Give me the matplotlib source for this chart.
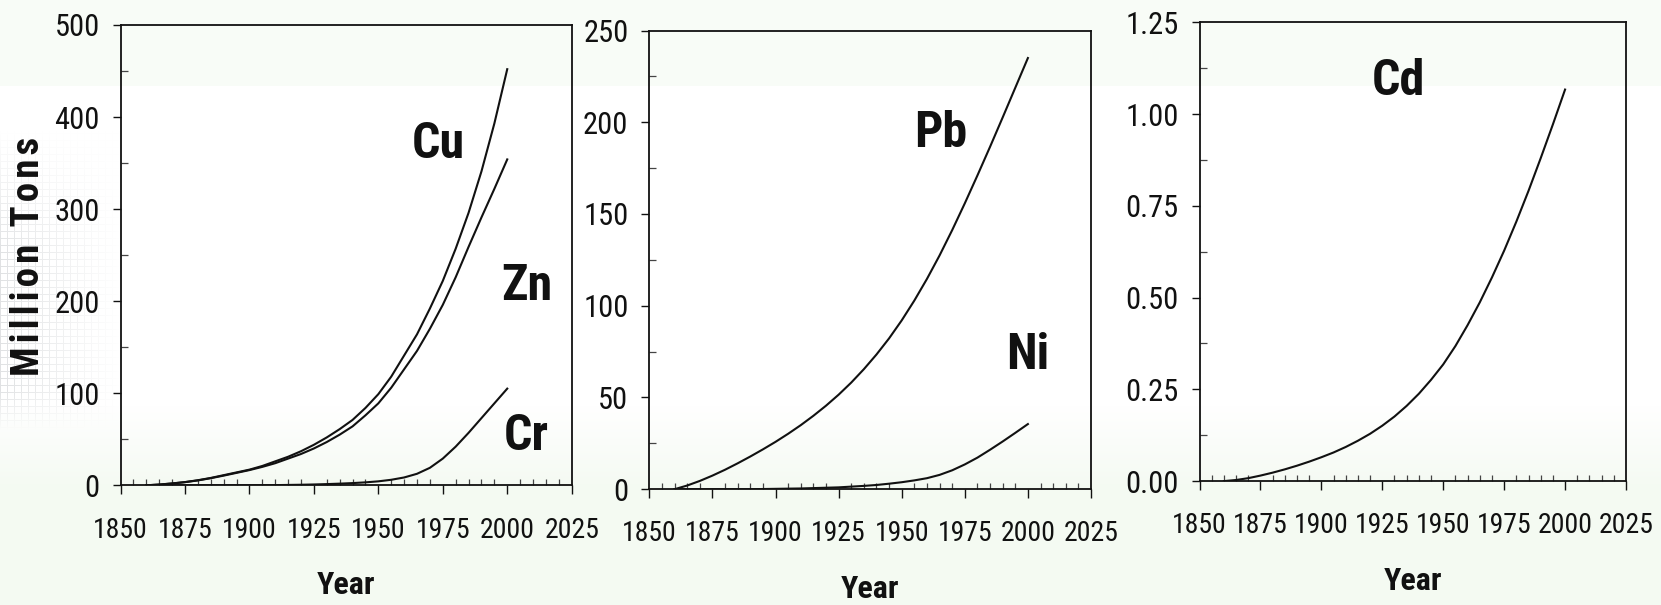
import numpy as np
import matplotlib
matplotlib.use("Agg")
import matplotlib.pyplot as plt
from matplotlib import font_manager
from matplotlib.ticker import MultipleLocator, FormatStrFormatter

# ---------------------------------------------------------------- data
years = [1860, 1865, 1870, 1875, 1880, 1885, 1890, 1895, 1900, 1905,
         1910, 1915, 1920, 1925, 1930, 1935, 1940, 1945, 1950, 1955,
         1960, 1965, 1970, 1975, 1980, 1985, 1990, 1995, 2000]

# cumulative production, million tons
cu = [0, 0.8, 2, 3.5, 5.5, 8, 11, 14, 17, 21,
      26, 31, 37, 44, 52, 61, 71, 84, 99, 118,
      141, 164, 192, 222, 257, 296, 341, 393, 452]
zn = [0, 0.8, 2, 3.4, 5.3, 7.7, 10.5, 13.5, 16.5, 20,
      24, 29, 34, 40, 47, 55, 64, 76, 89, 106,
      126, 146, 170, 196, 226, 259, 291, 322, 354]
cr = [0, 0, 0, 0, 0, 0, 0, 0, 0, 0.1,
      0.2, 0.4, 0.6, 0.9, 1.3, 1.8, 2.4, 3.2, 4.3, 6,
      8.5, 12.5, 19, 29, 42, 57, 73, 89, 105]
pb = [0, 2.0, 4.5, 7.4, 10.6, 14.1, 17.8, 21.7, 25.8, 30.2,
      34.9, 40.0, 45.5, 51.5, 58.1, 65.4, 73.4, 82.2, 92.0, 102.8,
      114.6, 127.4, 141.2, 155.8, 171.0, 186.6, 202.6, 218.8, 235.0]
ni = [0, 0, 0, 0, 0, 0, 0, 0.1, 0.2, 0.3,
      0.4, 0.6, 0.8, 1.0, 1.4, 1.8, 2.3, 3.0, 3.8, 4.8,
      6.0, 7.8, 10.3, 13.5, 17.2, 21.5, 26, 30.7, 35.5]
cd = [0, 0.003, 0.008, 0.015, 0.023, 0.032, 0.042, 0.053, 0.065, 0.078,
      0.093, 0.110, 0.129, 0.151, 0.176, 0.205, 0.238, 0.276, 0.318, 0.368,
      0.425, 0.487, 0.555, 0.628, 0.707, 0.791, 0.880, 0.972, 1.067]

x_ticks = [1850, 1875, 1900, 1925, 1950, 1975, 2000, 2025]
x_label = "Year"
y_label = "Million Tons"

# --------------------------------------------------------------- fonts
def _w(v):
    if isinstance(v, str):
        return font_manager.weight_dict.get(v, 400)
    return int(v)


def usable(name):
    ws = [_w(f.weight) for f in font_manager.fontManager.ttflist
          if f.name == name and f.style == "normal"]
    return any(350 <= w < 600 for w in ws) and any(w >= 700 for w in ws)


FONT = "Liberation Sans"
for cand in ["Nimbus Sans Narrow", "Liberation Sans Narrow", "Arial Narrow",
             "Roboto Condensed", "PT Sans Narrow", "Pragati Narrow",
             "Asap Condensed", "Barlow Semi Condensed"]:
    if usable(cand):
        FONT = cand
        break

plt.rcParams["font.family"] = [FONT, "DejaVu Sans"]
INK = "#111111"

W, H = 1661, 605
fig = plt.figure(figsize=(W / 100, H / 100), dpi=100)
fig.patch.set_facecolor("white")

# ---------------------------------------------------- slide background
bg = fig.add_axes([0, 0, 1, 1], zorder=-10)
bg.axis("off")
tint = np.array([0.960, 0.981, 0.952])
yy = np.arange(H)[:, None]
xx = np.arange(W)[None, :]
w = np.zeros((H, W))
w[yy[:, 0] < 86, :] = 0.6
low = np.clip((yy[:, 0] - 405) / 80.0, 0, 1)
w = np.maximum(w, low[:, None] * np.ones((1, W)))
img = 1 - w[..., None] * (1 - tint)[None, None, :]
# faint tiled squares on the left edge
grid = ((xx % 7 == 0) | (yy % 7 == 0)).astype(float)
fade_x = np.clip(1 - xx / 120.0, 0, 1)
fade_y = np.clip((yy - 130) / 120.0, 0, 1) * np.clip((430 - yy) / 40.0, 0, 1)
pat = 0.12 * grid * fade_x * fade_y
img = img - pat[..., None] * np.array([1.0, 0.95, 0.9])[None, None, :]
bg.imshow(np.clip(img, 0, 1), extent=[0, W, H, 0], aspect="auto",
          interpolation="bilinear")
bg.set_xlim(0, W)
bg.set_ylim(H, 0)


def make_panel(left, top, right, bottom, ytop, ymaj, ymin, fmt):
    ax = fig.add_axes([left / W, 1 - bottom / H, (right - left) / W,
                       (bottom - top) / H])
    ax.set_facecolor("none")
    ax.set_xlim(1850, 2025)
    ax.set_ylim(0, ytop)
    ax.set_xticks(x_ticks)
    ax.xaxis.set_minor_locator(MultipleLocator(5))
    ax.yaxis.set_major_locator(MultipleLocator(ymaj))
    ax.yaxis.set_minor_locator(MultipleLocator(ymin))
    ax.yaxis.set_major_formatter(FormatStrFormatter(fmt))
    ax.tick_params(axis="x", which="major", direction="out", length=6.5,
                   width=1, pad=16, labelsize=20, colors=INK)
    ax.tick_params(axis="x", which="minor", direction="in", length=4.5,
                   width=0.9, color="#444444")
    ax.tick_params(axis="y", which="major", direction="out", length=6,
                   width=1, pad=9, labelsize=22, colors=INK)
    ax.tick_params(axis="y", which="minor", direction="in", length=5,
                   width=0.9, color="#444444")
    for s in ax.spines.values():
        s.set_linewidth(1.3)
        s.set_color(INK)
    fig.text((left + right) / 2 / W, 1 - (bottom + 109) / H, x_label,
             ha="center", va="baseline", fontsize=23, fontweight="bold",
             color=INK)
    return ax


def tag(ax, x, y, s):
    ax.text(x, y, s, ha="center", va="baseline", fontsize=36,
            fontweight="bold", color=INK)


LW = 1.5
ax1 = make_panel(120.5, 25, 571.7, 485.3, 500, 100, 50, "%d")
ax1.plot(years, cu, color=INK, lw=LW)
ax1.plot(years, zn, color=INK, lw=LW)
ax1.plot(years, cr, color=INK, lw=LW)
tag(ax1, 1973.4, 355, "Cu")
tag(ax1, 2007.5, 201, "Zn")
tag(ax1, 2007.5, 38, "Cr")

ax2 = make_panel(649.3, 30.5, 1091, 489.2, 250, 50, 25, "%d")
ax2.plot(years, pb, color=INK, lw=LW)
ax2.plot(years, ni, color=INK, lw=LW)
tag(ax2, 1965.6, 186.5, "Pb")
tag(ax2, 2000, 65.7, "Ni")

ax3 = make_panel(1199.5, 22.4, 1626, 481.1, 1.25, 0.25, 0.125, "%.2f")
ax3.plot(years, cd, color=INK, lw=LW)
tag(ax3, 1931.7, 1.051, "Cd")

# letter-spaced axis title shared by the row
fig.text(29 / W, 1 - 256 / H, "\u200a".join(y_label), rotation=90,
         ha="center", va="center", fontsize=28, fontweight="bold", color=INK)

fig.savefig("out.png", dpi=100, facecolor=fig.get_facecolor())
